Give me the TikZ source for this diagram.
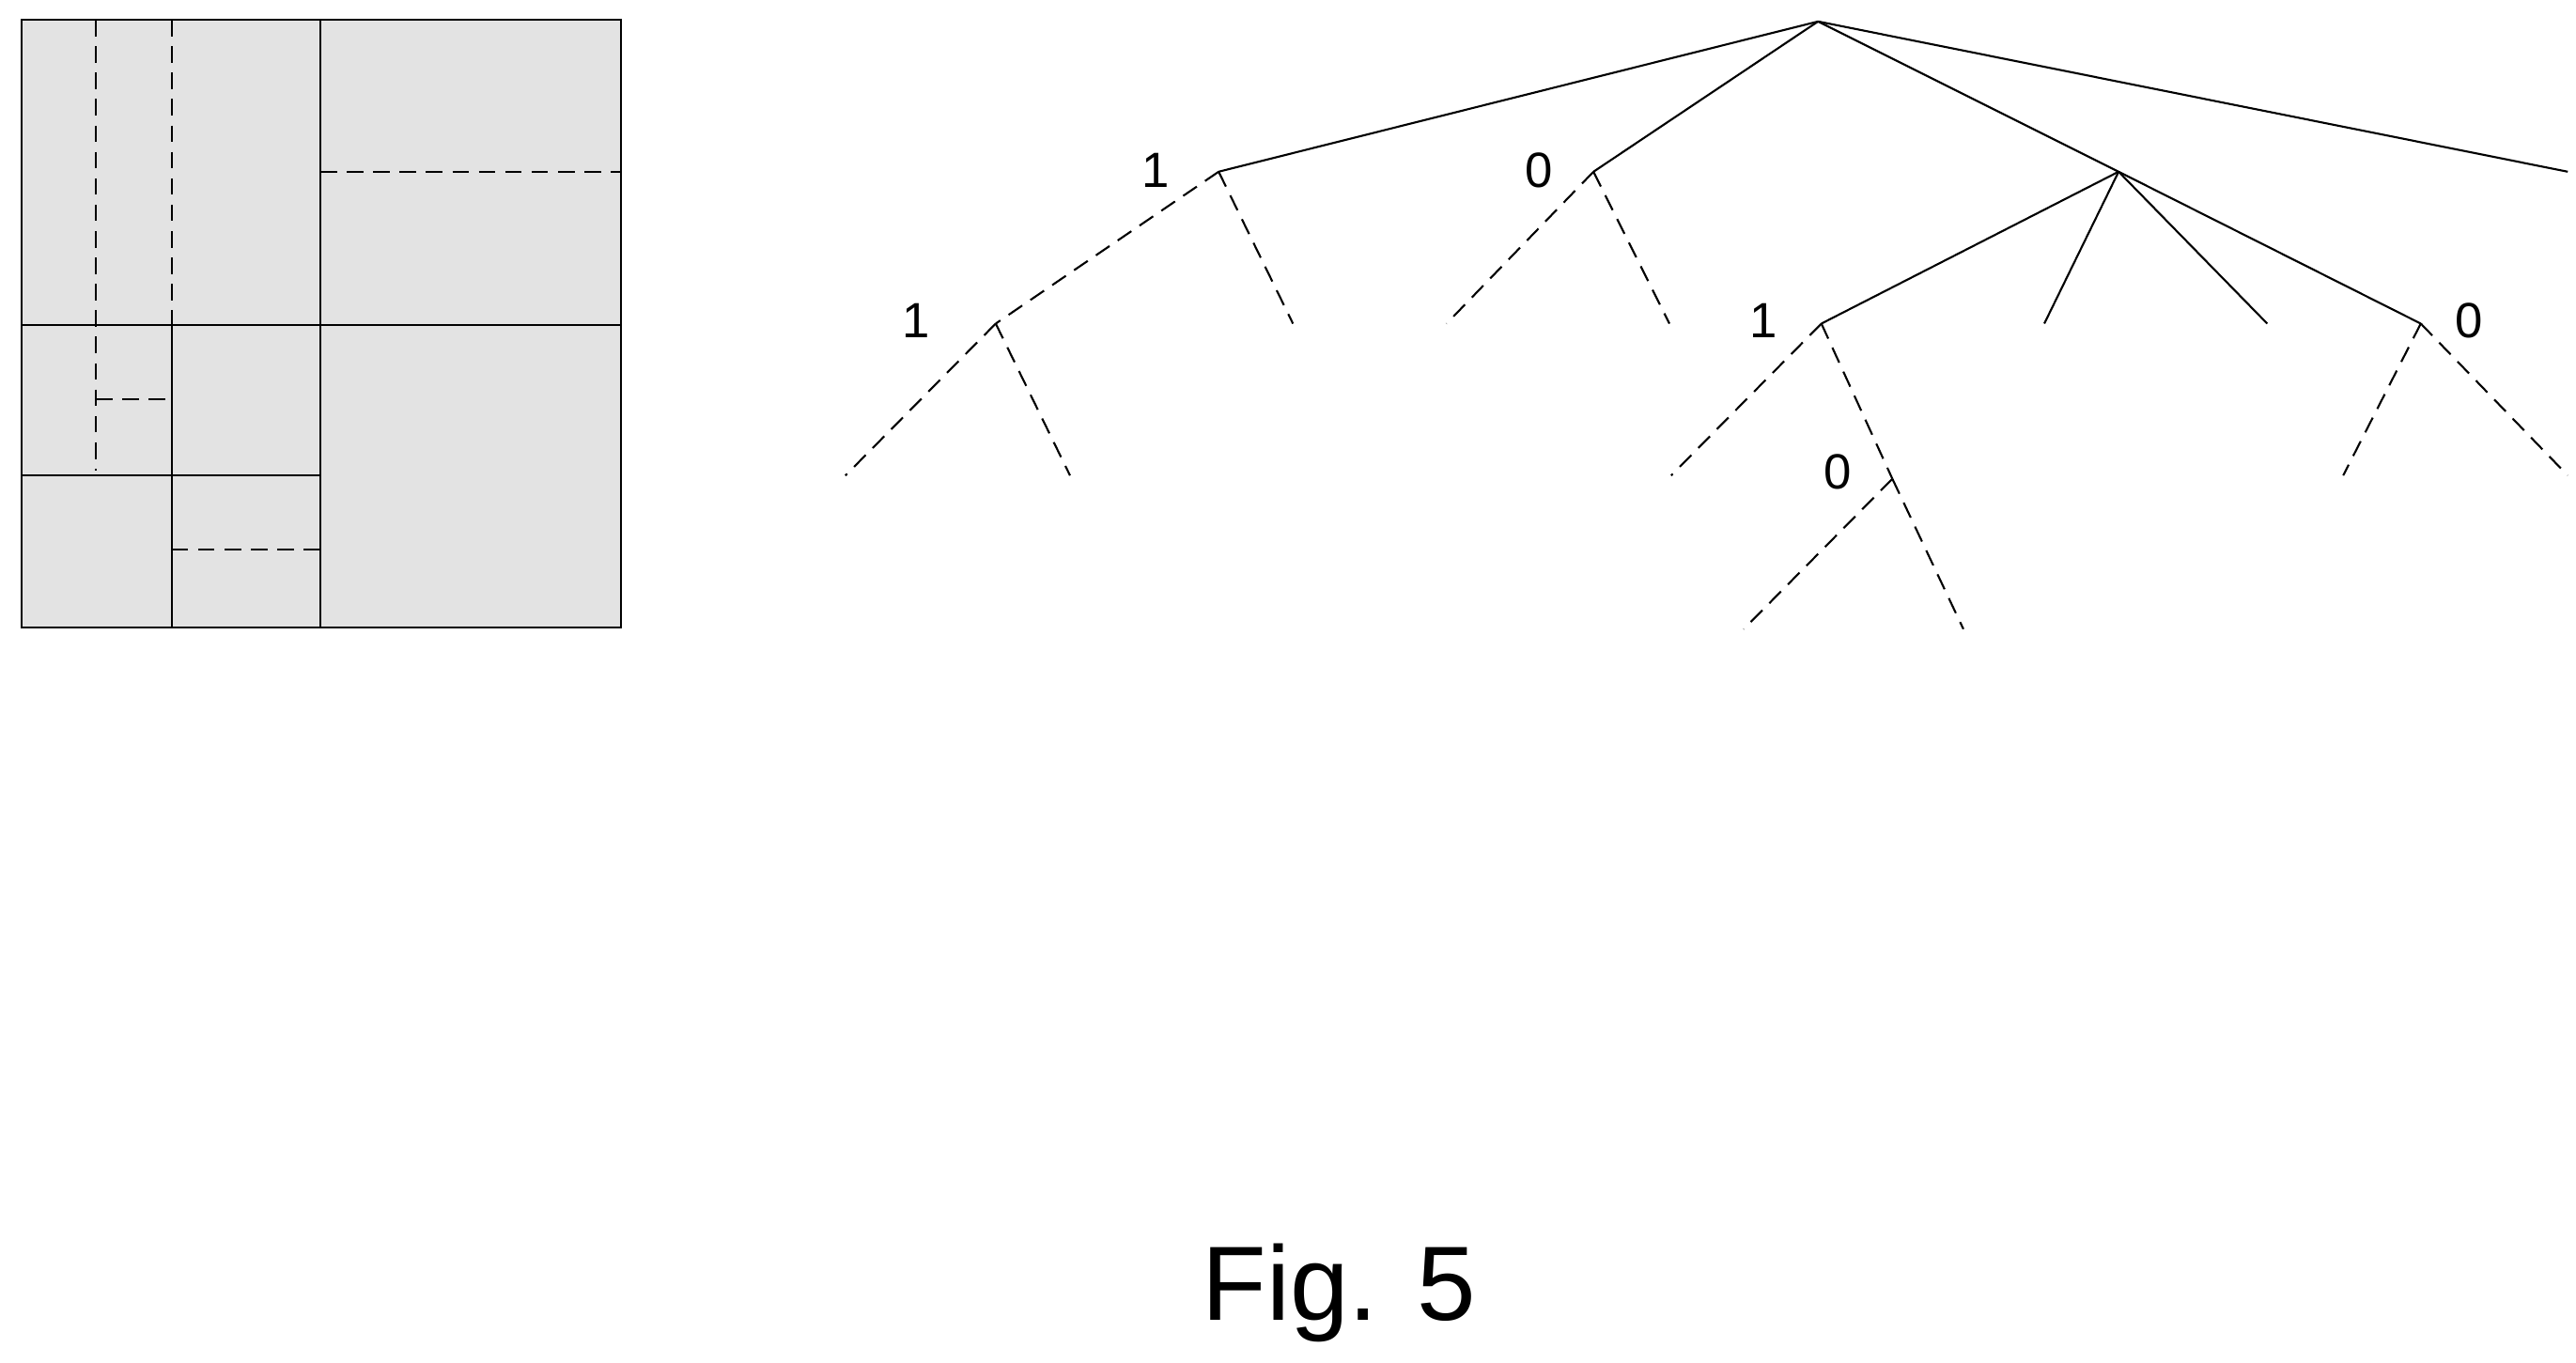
\documentclass[tikz,border=0pt]{standalone}
\usepackage{fontspec}
\setmainfont{Liberation Sans}
\usepackage{tikz}
\usetikzlibrary{positioning}
\tikzset{sol/.style={draw,line width=0.6pt}}
\tikzset{das/.style={draw,line width=0.6pt,dash pattern=on 5pt off 3pt}}
\tikzset{lab/.style={inner sep=0pt,font=\fontsize{15}{15}\selectfont}}

\begin{document}
\begin{tikzpicture}[x=0.017577cm,y=-0.017577cm]
    \useasboundingbox (0,0) rectangle (1560,825);
    % partition of the block
    \fill[gray!22] (13,12) rectangle (376,380);
    \draw [das] (58,12) -- (58,285);
    \draw [das] (104,12) -- (104,197);
    \draw [das] (58,242) -- (104,242);
    \draw [das] (104,333) -- (194,333);
    \draw [das] (194,104) -- (376,104);
    \draw [sol] (194,12) -- (194,380);
    \draw [sol] (13,197) -- (376,197);
    \draw [sol] (104,197) -- (104,380);
    \draw [sol] (13,288) -- (194,288);
    \draw [sol] (13,12) rectangle (376,380);

    % tree
    \coordinate (r) at (1101,13);
    \coordinate (a) at (738,104);
    \coordinate (b) at (965,104);
    \coordinate (c) at (1283,104);
    \coordinate (d) at (1555,104);
    \coordinate (a1) at (603,196);
    \coordinate (a2) at (783,196);
    \coordinate (a11) at (512,288);
    \coordinate (a12) at (648,288);
    \coordinate (b1) at (876,196);
    \coordinate (b2) at (1011,196);
    \coordinate (c1) at (1103,196);
    \coordinate (c2) at (1238,196);
    \coordinate (c3) at (1373,196);
    \coordinate (c4) at (1466,196);
    \coordinate (c11) at (1012,288);
    \coordinate (c12) at (1146,290);
    \coordinate (c121) at (1056,381);
    \coordinate (c122) at (1189,381);
    \coordinate (c41) at (1419,288);
    \coordinate (c42) at (1555,288);

    \node[lab] (la) at (700,103) {1};
    \node[lab] (lb) at (932,103) {0};
    \node[lab] (la1) at (555,194) {1};
    \node[lab] (lc1) at (1068,194) {1};
    \node[lab] (lc4) at (1495,194) {0};
    \node[lab] (lc12) at (1113,286) {0};

    \draw [sol] (r) -- (a);
    \draw [sol] (r) -- (b);
    \draw [sol] (r) -- (c);
    \draw [sol] (r) -- (d);
    \draw [sol] (c) -- (c1);
    \draw [sol] (c) -- (c2);
    \draw [sol] (c) -- (c3);
    \draw [sol] (c) -- (c4);
    \draw [das] (a) -- (a1);
    \draw [das] (a) -- (a2);
    \draw [das] (a1) -- (a11);
    \draw [das] (a1) -- (a12);
    \draw [das] (b) -- (b1);
    \draw [das] (b) -- (b2);
    \draw [das] (c1) -- (c11);
    \draw [das] (c1) -- (c12);
    \draw [das] (c12) -- (c121);
    \draw [das] (c12) -- (c122);
    \draw [das] (c4) -- (c41);
    \draw [das] (c4) -- (c42);

    \node[inner sep=0pt,font=\fontsize{32}{32}\selectfont] (cap) at (811,783) {Fig. 5};
\end{tikzpicture}
\end{document}
